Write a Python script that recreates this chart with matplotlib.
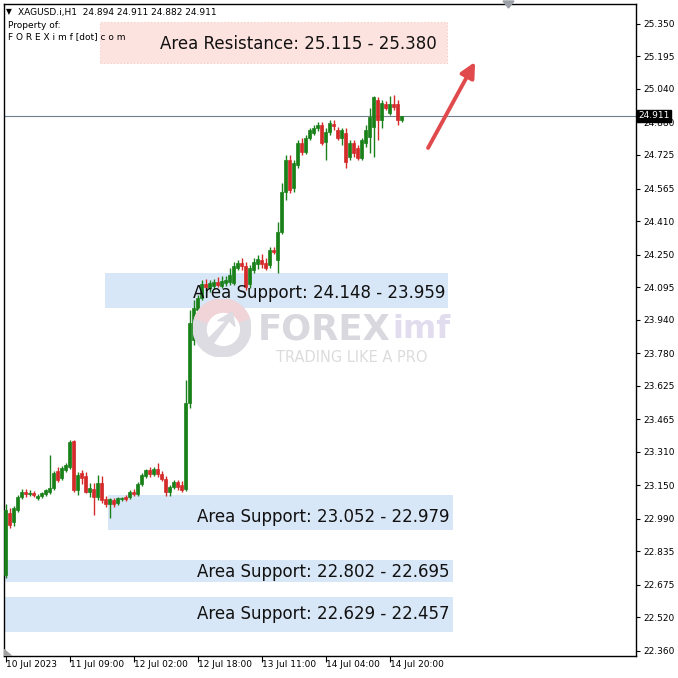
import matplotlib
matplotlib.use("Agg")
import matplotlib.pyplot as plt
from matplotlib.patches import Rectangle, Circle, Wedge, Polygon
import numpy as np

# ---------------- data ----------------
opens = [22.722, 23.018, 22.975, 23.032, 23.094, 23.118, 23.109, 23.113, 23.090, 23.099,
         23.109, 23.118, 23.137, 23.218, 23.185, 23.223, 23.237, 23.361, 23.128, 23.209,
         23.194, 23.118, 23.132, 23.094, 23.161, 23.085, 23.061, 23.080, 23.066, 23.085,
         23.094, 23.094, 23.118, 23.109, 23.156, 23.194, 23.223, 23.204, 23.228, 23.204,
         23.180, 23.118, 23.142, 23.166, 23.151, 23.132, 23.543, 23.843, 23.986, 24.043,
         24.110, 24.091, 24.101, 24.120, 24.101, 24.115, 24.120, 24.115, 24.187, 24.211,
         24.196, 24.110, 24.177, 24.206, 24.225, 24.211, 24.201, 24.272, 24.225, 24.358,
         24.549, 24.701, 24.568, 24.678, 24.782, 24.739, 24.806, 24.830, 24.854, 24.868,
         24.787, 24.835, 24.873, 24.844, 24.806, 24.830, 24.716, 24.782, 24.758, 24.711,
         24.782, 24.811, 24.859, 24.988, 24.892, 24.969, 24.926, 24.969, 24.969, 24.894]
highs = [23.061, 23.042, 23.051, 23.104, 23.133, 23.133, 23.128, 23.123, 23.109, 23.118,
         23.133, 23.295, 23.218, 23.237, 23.242, 23.256, 23.366, 23.366, 23.213, 23.223,
         23.213, 23.161, 23.161, 23.199, 23.194, 23.099, 23.090, 23.090, 23.094, 23.094,
         23.104, 23.128, 23.133, 23.166, 23.209, 23.228, 23.237, 23.237, 23.256, 23.218,
         23.194, 23.151, 23.175, 23.175, 23.170, 23.652, 23.986, 24.034, 24.058, 24.129,
         24.134, 24.129, 24.134, 24.144, 24.149, 24.149, 24.187, 24.215, 24.225, 24.234,
         24.215, 24.201, 24.234, 24.248, 24.253, 24.234, 24.287, 24.287, 24.406, 24.592,
         24.725, 24.725, 24.701, 24.797, 24.806, 24.821, 24.854, 24.868, 24.883, 24.883,
         24.854, 24.892, 24.892, 24.859, 24.854, 24.854, 24.797, 24.797, 24.773, 24.806,
         24.868, 24.949, 25.006, 25.002, 24.988, 24.983, 25.006, 25.011, 24.988, 24.911]
lows = [22.708, 22.946, 22.956, 23.023, 23.085, 23.094, 23.099, 23.094, 23.080, 23.090,
        23.099, 23.109, 23.128, 23.166, 23.175, 23.213, 23.228, 23.118, 23.104, 23.156,
        23.113, 23.094, 23.008, 23.080, 23.066, 23.046, 22.994, 23.046, 23.056, 23.075,
        23.075, 23.085, 23.099, 23.099, 23.147, 23.185, 23.190, 23.194, 23.190, 23.170,
        23.099, 23.099, 23.132, 23.128, 23.118, 23.123, 23.519, 23.819, 23.962, 24.034,
        24.081, 24.072, 24.086, 24.096, 24.091, 24.101, 24.105, 24.105, 24.177, 24.177,
        24.081, 24.091, 24.163, 24.182, 24.187, 24.177, 24.187, 24.253, 24.163, 24.349,
        24.511, 24.544, 24.549, 24.663, 24.725, 24.730, 24.797, 24.821, 24.840, 24.773,
        24.701, 24.821, 24.844, 24.797, 24.773, 24.663, 24.701, 24.716, 24.701, 24.701,
        24.763, 24.735, 24.716, 24.797, 24.854, 24.940, 24.916, 24.940, 24.868, 24.882]
closes = [23.032, 22.961, 23.042, 23.094, 23.118, 23.109, 23.113, 23.104, 23.099, 23.113,
          23.128, 23.137, 23.209, 23.175, 23.233, 23.247, 23.357, 23.128, 23.199, 23.185,
          23.118, 23.137, 23.094, 23.161, 23.080, 23.061, 23.085, 23.061, 23.090, 23.090,
          23.085, 23.118, 23.109, 23.156, 23.199, 23.223, 23.204, 23.228, 23.204, 23.180,
          23.118, 23.142, 23.166, 23.142, 23.128, 23.543, 23.924, 23.995, 24.043, 24.110,
          24.096, 24.115, 24.120, 24.105, 24.124, 24.129, 24.153, 24.196, 24.211, 24.196,
          24.096, 24.187, 24.215, 24.230, 24.206, 24.187, 24.272, 24.263, 24.358, 24.549,
          24.701, 24.558, 24.687, 24.782, 24.739, 24.806, 24.844, 24.854, 24.868, 24.782,
          24.835, 24.878, 24.864, 24.806, 24.844, 24.692, 24.782, 24.735, 24.711, 24.797,
          24.844, 24.906, 25.002, 24.892, 24.973, 24.950, 24.969, 24.954, 24.894, 24.911]

price_ticks = [25.350, 25.195, 25.040, 24.880, 24.725, 24.565, 24.410, 24.250, 24.095, 23.940,
               23.780, 23.625, 23.465, 23.310, 23.150, 22.990, 22.835, 22.675, 22.520, 22.360]
time_tick_bars = [0, 16, 32, 48, 64, 80, 96]
time_tick_labels = ["10 Jul 2023", "11 Jul 09:00", "12 Jul 02:00", "12 Jul 18:00",
                    "13 Jul 11:00", "14 Jul 04:00", "14 Jul 20:00"]

zone_labels = ["Area Resistance: 25.115 - 25.380", "Area Support: 24.148 - 23.959",
               "Area Support: 23.052 - 22.979", "Area Support: 22.802 - 22.695",
               "Area Support: 22.629 - 22.457"]
zone_top = [25.360, 24.163, 23.104, 22.794, 22.617]
zone_bottom = [25.164, 23.996, 22.937, 22.689, 22.450]
zone_start_bar = [23.6, 24.9, 25.6, -0.4, -0.4]
zone_end_bar = [110.4, 110.6, 111.9, 111.9, 111.9]

last_price = 24.911
header = "XAGUSD.i,H1  24.894 24.911 24.882 24.911"

# ---------------- figure ----------------
W = H = 678
fig = plt.figure(figsize=(6.78, 6.78), dpi=100)
fig.patch.set_facecolor("white")

def fx(px):
    return px / W

def fy(py):
    return 1 - py / H

ax_l, ax_r, ax_t, ax_b = 4, 636, 4, 656
ax = fig.add_axes([fx(ax_l), fy(ax_b), (ax_r - ax_l) / W, (ax_b - ax_t) / H])
ax.set_facecolor("white")

ymin, ymax = 22.336, 25.445
xmin, xmax = -0.375, 157.6
ax.set_xlim(xmin, xmax)
ax.set_ylim(ymin, ymax)

GREEN = "#19801a"
RED = "#d42a2a"

# zones (behind candles)
for i, (lab, top, bot, xs, xe) in enumerate(zip(zone_labels, zone_top, zone_bottom,
                                                  zone_start_bar, zone_end_bar)):
    if i == 0:
        fc, ec = "#fde3df", "#f6c8c2"
        ax.add_patch(Rectangle((xs, bot), xe - xs, top - bot, facecolor=fc,
                               edgecolor=ec, lw=0.8, ls=(0, (1, 2)), zorder=1))
    else:
        fc = "#d8e7f7"
        ax.add_patch(Rectangle((xs, bot), xe - xs, top - bot, facecolor=fc,
                               edgecolor="none", zorder=1))

# watermark logo
logo_ax = fig.add_axes([fx(193), fy(357), 58 / W, 58 / H])
logo_ax.set_xlim(-1, 1); logo_ax.set_ylim(-1, 1); logo_ax.axis("off")
logo_ax.set_zorder(0.5)
logo_ax.patch.set_alpha(0)
logo_ax.add_patch(Circle((0, 0), 1.0, color="#dedce3", zorder=1))
logo_ax.add_patch(Wedge((0, 0), 1.0, 20, 160, color="#f0d4d8", zorder=2))
logo_ax.add_patch(Circle((0.05, -0.05), 0.55, color="white", zorder=3))
logo_ax.add_patch(Polygon([[-0.55, -0.45], [0.15, 0.25], [-0.15, 0.25], [0.35, 0.55],
                           [0.45, 0.05], [0.25, 0.25], [-0.35, -0.6]],
                          closed=True, color="#dedce3", zorder=4))
fig.text(fx(258), fy(329), "FOREX", fontsize=25.5, fontweight="bold", color="#d9d8de",
         ha="left", va="center", family="DejaVu Sans", zorder=0.6)
fig.text(fx(392), fy(329), "imf", fontsize=23, fontweight="bold", color="#e2dcef",
         ha="left", va="center", family="DejaVu Sans", zorder=0.6)
fig.text(fx(352), fy(357), "TRADING LIKE A PRO", fontsize=10.5, color="#dcdcdc",
         ha="center", va="center", family="DejaVu Sans", zorder=0.6)

# last price line
ax.axhline(last_price, color="#6e7f8e", lw=0.8, zorder=2)

# candles
x = np.arange(len(opens))
bw = 0.75
for i in range(len(opens)):
    o, h, l, c = opens[i], highs[i], lows[i], closes[i]
    col = GREEN if c >= o else RED
    ax.vlines(x[i], l, h, color=col, lw=1.0, zorder=3)
    lo, hi = min(o, c), max(o, c)
    hgt = max(hi - lo, 0.004)
    ax.add_patch(Rectangle((x[i] - bw / 2, lo), bw, hgt, facecolor=col,
                           edgecolor=col, lw=0.5, zorder=4))

# zone labels
label_pos = [(73.1, 25.255, "center"), (109.9, 24.067, "right"), (111.1, 23.000, "right"),
             (111.1, 22.737, "right"), (111.1, 22.536, "right")]
for lab, (tx, ty, ha) in zip(zone_labels, label_pos):
    ax.text(tx, ty, lab, fontsize=12, color="#111111", ha=ha, va="center", zorder=6,
            family="DejaVu Sans")

# red arrow
ax.annotate("", xy=((475 - 5.5) / 4, 25.350 - (62 - 24) * 0.004769),
            xytext=((428 - 5.5) / 4, 25.350 - (148 - 24) * 0.004769),
            arrowprops=dict(arrowstyle="-|>,head_length=0.9,head_width=0.45",
                            color="#e04a4c", lw=2.8, shrinkA=0, shrinkB=0), zorder=7)

# axes styling
for s in ax.spines.values():
    s.set_color("black")
    s.set_linewidth(1.0)
ax.yaxis.tick_right()
ax.set_yticks(price_ticks)
ax.set_yticklabels([f"{v:.3f}" for v in price_ticks])
ax.tick_params(axis="y", direction="out", length=3, width=0.8, pad=2, labelsize=6.5,
               colors="black")
ax.set_xticks(time_tick_bars)
ax.set_xticklabels([])
ax.tick_params(axis="x", direction="out", length=4, width=0.8)
for b, lab in zip(time_tick_bars, time_tick_labels):
    ax.text(b + 0.2, -0.006, lab, transform=ax.get_xaxis_transform(), fontsize=6.5,
            ha="left", va="top", color="black")

# last price tag
ax.text(1.004, last_price, f"{last_price:.3f}", transform=ax.get_yaxis_transform(),
        fontsize=6.5, color="white", ha="left", va="center", zorder=10,
        bbox=dict(boxstyle="square,pad=0.15", facecolor="black", edgecolor="black"))

# header texts
fig.text(fx(6), fy(12), "\u25BC", fontsize=5.5, color="black", ha="left", va="center")
fig.text(fx(18), fy(12), header, fontsize=6.5, color="black", ha="left", va="center")
fig.text(fx(8), fy(25), "Property of:", fontsize=6.5, color="black", ha="left", va="center")
fig.text(fx(8), fy(37), "F O R E X i m f [dot] c o m", fontsize=6.5, color="black",
         ha="left", va="center")

# shift marker at top and small triangle bottom-left
fig.patches.append(Polygon([[fx(503), fy(1)], [fx(514), fy(1)], [fx(508.5), fy(8)]],
                           closed=True, transform=fig.transFigure, color="#9aa0a6"))
ax.add_patch(Polygon([[0, 0], [0.012, 0], [0, 0.01]], closed=True,
                     transform=ax.transAxes, color="#a0a0a0", zorder=5))

fig.savefig("out.png", dpi=100, facecolor="white")
